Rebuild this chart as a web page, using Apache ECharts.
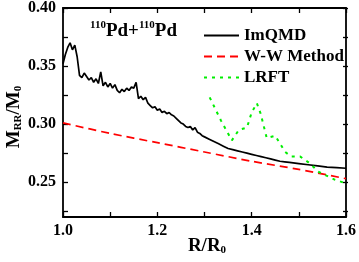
<!DOCTYPE html>
<html><head><meta charset="utf-8">
<script src="https://cdn.jsdelivr.net/npm/echarts@6/dist/echarts.min.js"></script>
<style>html,body{margin:0;padding:0;background:#fff}#c{width:359px;height:262px}</style>
</head><body><div id="c"></div>
<script>
var imqmdR = [1.000,1.005,1.010,1.015,1.020,1.025,1.030,1.035,1.040,1.045,1.050,1.055,1.060,1.065,1.070,1.075,1.080,1.085,1.090,1.095,1.100,1.105,1.110,1.115,1.120,1.125,1.130,1.135,1.140,1.145,1.150,1.155,1.160,1.165,1.170,1.175,1.180,1.185,1.190,1.195,1.200,1.205,1.210,1.215,1.220,1.225,1.230,1.235,1.240,1.245,1.250,1.255,1.260,1.265,1.270,1.275,1.280,1.285,1.290,1.295,1.300,1.310,1.320,1.330,1.340,1.350,1.360,1.370,1.380,1.390,1.400,1.410,1.420,1.430,1.440,1.450,1.460,1.470,1.480,1.500,1.520,1.540,1.560,1.580,1.600];
var imqmdM = [0.352,0.360,0.366,0.370,0.364,0.368,0.358,0.342,0.340,0.344,0.341,0.338,0.340,0.336,0.339,0.335,0.345,0.333,0.336,0.332,0.335,0.331,0.334,0.329,0.327,0.330,0.328,0.331,0.329,0.332,0.331,0.336,0.322,0.324,0.321,0.323,0.318,0.316,0.314,0.315,0.312,0.313,0.310,0.311,0.309,0.310,0.308,0.307,0.305,0.303,0.301,0.300,0.298,0.297,0.298,0.295,0.297,0.293,0.292,0.290,0.289,0.287,0.285,0.283,0.281,0.279,0.278,0.277,0.276,0.275,0.274,0.273,0.272,0.271,0.270,0.269,0.268,0.2675,0.267,0.266,0.265,0.264,0.263,0.2625,0.262];
var wwR = [1.0,1.1,1.2,1.3,1.4,1.5,1.6];
var wwM = [0.301,0.292,0.284,0.276,0.268,0.261,0.253];
var lrftR = [1.311,1.335,1.358,1.373,1.390,1.400,1.411,1.419,1.432,1.450,1.471,1.484,1.503,1.524,1.541,1.577,1.600];
var lrftM = [0.323,0.303,0.286,0.295,0.297,0.310,0.318,0.309,0.288,0.290,0.276,0.272,0.272,0.266,0.259,0.252,0.249];
var xLabels = ['1.0','1.2','1.4','1.6'];
var yLabels = ['0.25','0.30','0.35','0.40'];
var Y_MIN = 0.22, Y_MAX = 0.40, Y_TICK0 = 0.225, Y_STEP = 0.025;

function zip(a,b){return a.map(function(v,i){return [v,b[i]];});}
var F = '"Liberation Serif","Times New Roman",serif';
var chart = echarts.init(document.getElementById('c'));
var TOP = 8, BOT = 45, H = 262 - TOP - BOT;
var bot2 = BOT + (Y_TICK0 - Y_MIN) / (Y_MAX - Y_MIN) * H;
function axLine(){return {show:true, onZero:false, lineStyle:{color:'#000', width:1.8}};}
function tick(){return {show:true, inside:true, length:5, lineStyle:{color:'#000', width:1.3}};}
function xFmt(v){var s=v.toFixed(1); return xLabels.indexOf(s)>=0 ? s : '';}
function yFmt(v){var s=v.toFixed(2); return (yLabels.indexOf(s)>=0 && Math.abs(v-parseFloat(s))<1e-6) ? s : '';}
chart.setOption({
  animation:false,
  backgroundColor:'#fff',
  grid:[
    {left:63, right:11, top:TOP, bottom:BOT, containLabel:false},
    {left:63, right:11, top:TOP, bottom:bot2, containLabel:false}
  ],
  xAxis:[
    {type:'value', gridIndex:0, min:1.0, max:1.6, interval:0.1, axisLine:axLine(), splitLine:{show:false},
     axisTick:tick(),
     axisLabel:{margin:6, color:'#000', fontFamily:F, fontWeight:'bold', fontSize:16, formatter:xFmt}},
    {type:'value', gridIndex:0, position:'top', min:1.0, max:1.6, interval:0.1, axisLine:axLine(), splitLine:{show:false},
     axisTick:tick(), axisLabel:{show:false}},
    {type:'value', gridIndex:1, min:1.0, max:1.6, show:false}
  ],
  yAxis:[
    {type:'value', gridIndex:0, min:Y_MIN, max:Y_MAX, axisLine:axLine(), splitLine:{show:false},
     axisTick:{show:false}, axisLabel:{show:false}},
    {type:'value', gridIndex:0, position:'right', min:Y_MIN, max:Y_MAX, axisLine:axLine(), splitLine:{show:false},
     axisTick:{show:false}, axisLabel:{show:false}},
    {type:'value', gridIndex:1, min:Y_TICK0, max:Y_MAX, interval:Y_STEP, axisLine:{show:false}, splitLine:{show:false},
     axisTick:tick(),
     axisLabel:{margin:7, color:'#000', fontFamily:F, fontWeight:'bold', fontSize:16, formatter:yFmt}},
    {type:'value', gridIndex:1, position:'right', min:Y_TICK0, max:Y_MAX, interval:Y_STEP, axisLine:{show:false}, splitLine:{show:false},
     axisTick:tick(), axisLabel:{show:false}}
  ],
  legend:{orient:'vertical', left:198, top:22, itemWidth:35, itemHeight:14, itemGap:4,
    itemStyle:{opacity:0},
    textStyle:{color:'#000', fontFamily:F, fontWeight:'bold', fontSize:17},
    data:['ImQMD','W-W Method','LRFT']},
  series:[
    {name:'ImQMD', type:'line', xAxisIndex:0, yAxisIndex:0, data:zip(imqmdR,imqmdM), symbol:'none',
     lineStyle:{color:'#000', width:1.7}, itemStyle:{color:'#000'}},
    {name:'W-W Method', type:'line', xAxisIndex:0, yAxisIndex:0, data:zip(wwR,wwM), symbol:'none', smooth:0.3,
     lineStyle:{color:'#ff0000', width:1.7, type:[8,5]}, itemStyle:{color:'#ff0000'}},
    {name:'LRFT', type:'line', xAxisIndex:0, yAxisIndex:0, data:zip(lrftR,lrftM), symbol:'none',
     lineStyle:{color:'#00ee00', width:2, type:[3,5]}, itemStyle:{color:'#00ee00'}},
    {type:'line', xAxisIndex:2, yAxisIndex:2, data:[], silent:true}
  ],
  graphic:[
    {type:'text', left:90, top:20, style:{
      text:'{s|110}{m|Pd+}{s|110}{m|Pd}',
      rich:{s:{fontFamily:F, fontWeight:'bold', fontSize:11, verticalAlign:'top', lineHeight:22, fill:'#000'},
            m:{fontFamily:F, fontWeight:'bold', fontSize:19, lineHeight:22, fill:'#000'}}}},
    {type:'text', x:14, y:117, rotation:Math.PI/2, style:{
      text:'{m|M}{s|RR}{m|/M}{s|0}', align:'center', verticalAlign:'middle',
      rich:{s:{fontFamily:F, fontWeight:'bold', fontSize:11, verticalAlign:'bottom', lineHeight:20, fill:'#000'},
            m:{fontFamily:F, fontWeight:'bold', fontSize:19, lineHeight:20, fill:'#000'}}}},
    {type:'text', x:207, y:246, style:{
      text:'{m|R/R}{s|0}', align:'center', verticalAlign:'middle',
      rich:{s:{fontFamily:F, fontWeight:'bold', fontSize:11, verticalAlign:'bottom', lineHeight:20, fill:'#000'},
            m:{fontFamily:F, fontWeight:'bold', fontSize:19, lineHeight:20, fill:'#000'}}}}
  ]
});
</script></body></html>
